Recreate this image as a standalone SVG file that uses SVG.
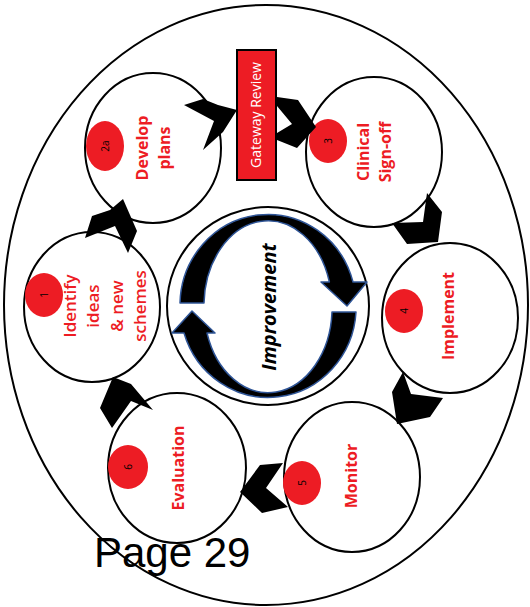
<svg xmlns="http://www.w3.org/2000/svg" width="530" height="607" viewBox="0 0 530 607">
<style>
.frame{fill:#fff;stroke:#000;stroke-width:2}
.node{fill:#fff;stroke:#000;stroke-width:2}
.badge{fill:#ED1C24}
.num{font-family:"Open Sans","Liberation Sans",sans-serif;font-size:10px;fill:#000;text-anchor:middle}
.lbl{font-family:"Open Sans","Liberation Sans",sans-serif;font-weight:bold;font-size:16px;fill:#ED1C24;text-anchor:middle}
.lblr{font-family:"Open Sans","Liberation Sans",sans-serif;font-weight:600;font-size:17px;fill:#ED1C24;text-anchor:middle}
.chev{fill:#000}
.cyc{fill:#000;stroke:#2F5597;stroke-width:1.5;stroke-linejoin:round}
</style>
<rect width="530" height="607" fill="#fff"/>
<ellipse class="frame" cx="266" cy="305" rx="262" ry="300"/>

<g id="center">
<ellipse class="node" cx="268" cy="306" rx="101" ry="99"/>
<path class="cyc" d="M180,303 A88,91 0 0 1 353,282 L367,282 L347,306 L321,282 L329.4,282 A64,85 0 0 0 204,303 Z"/>
<path class="cyc" d="M356,312 A88,91 0 0 1 184,333 L172,333 L192,311 L215,333 L207,333 A64,85 0 0 0 332,312 Z"/>
<text transform="translate(276,307) rotate(-90)" style="font-family:'Open Sans','Liberation Sans',sans-serif;font-size:20px;font-weight:bold;font-style:italic;fill:#000;text-anchor:middle">Improvement</text>
</g>

<g id="node-2a">
<ellipse class="node" cx="153" cy="148" rx="68" ry="75"/>
<ellipse class="badge" cx="105" cy="146" rx="19" ry="25"/>
<text class="num" transform="translate(108.5,146) rotate(-90)">2a</text>
<text class="lbl" transform="translate(148,148) rotate(-90)"><tspan x="0">Develop</tspan><tspan x="0" dy="22">plans</tspan></text>
</g>

<g id="gateway">
<rect x="237" y="50" width="39" height="130" fill="#ED1C24" stroke="#000" stroke-width="2"/>
<text transform="translate(261,115) rotate(-90)" style="font-family:'Open Sans','Liberation Sans',sans-serif;font-size:14px;fill:#fff;text-anchor:middle">Gateway Review</text>
</g>

<g id="node-3">
<ellipse class="node" cx="374" cy="152" rx="68" ry="75"/>
<ellipse class="badge" cx="328" cy="141" rx="19" ry="22"/>
<text class="num" transform="translate(331.5,141) rotate(-90)">3</text>
<text class="lbl" transform="translate(369,152) rotate(-90)"><tspan x="0">Clinical</tspan><tspan x="0" dy="22">Sign-off</tspan></text>
</g>

<g id="node-1">
<ellipse class="node" cx="92" cy="307" rx="68" ry="75"/>
<ellipse class="badge" cx="44" cy="295" rx="19" ry="22"/>
<text class="num" transform="translate(47.5,295) rotate(-90)">1</text>
<text class="lblr" transform="translate(76,306) rotate(-90)"><tspan x="0">Identify</tspan><tspan x="0" dy="23.3">ideas</tspan><tspan x="0" dy="23.3">&amp; new</tspan><tspan x="0" dy="23.3">schemes</tspan></text>
</g>

<g id="node-4">
<ellipse class="node" cx="450" cy="318" rx="68" ry="75"/>
<ellipse class="badge" cx="404" cy="311" rx="19" ry="22"/>
<text class="num" transform="translate(407.5,311) rotate(-90)">4</text>
<text class="lbl" transform="translate(454,316) rotate(-90)">Implement</text>
</g>

<g id="node-5">
<ellipse class="node" cx="352" cy="477" rx="68" ry="75"/>
<ellipse class="badge" cx="302" cy="483" rx="19" ry="22"/>
<text class="num" transform="translate(305.5,483) rotate(-90)">5</text>
<text class="lbl" transform="translate(357,476) rotate(-90)">Monitor</text>
</g>

<g id="node-6">
<ellipse class="node" cx="177" cy="468" rx="69" ry="75"/>
<ellipse class="badge" cx="128" cy="467" rx="20" ry="22"/>
<text class="num" transform="translate(131.5,467) rotate(-90)">6</text>
<text class="lbl" transform="translate(184,468) rotate(-90)">Evaluation</text>
</g>

<g id="connectors">
<polygon class="chev" points="184,105 203,99 218,105 237,110 223,132 203,150 214,121"/>
<polygon class="chev" points="277,97 298,100 316,127 297,148 277,140 277,133 292,124 277,106"/>
<polygon class="chev" points="427,193 442,212 438,242 407,244 392,223 423,222"/>
<polygon class="chev" points="403,372 411,394 443,398 430,417 397,424 392,392"/>
<polygon class="chev" points="283,463 260,465 240,492 262,513 288,507 266,488"/>
<polygon class="chev" points="113,377 131,384 153,410 131,401 112,428 100,408"/>
<polygon class="chev" points="85,238 92,216 110,210 123,199 137,231 128,253 115,226"/>
</g>

<text x="94" y="567" style="font-family:'Liberation Sans',Arial,sans-serif;font-size:42px;fill:#000">Page 29</text>
</svg>
